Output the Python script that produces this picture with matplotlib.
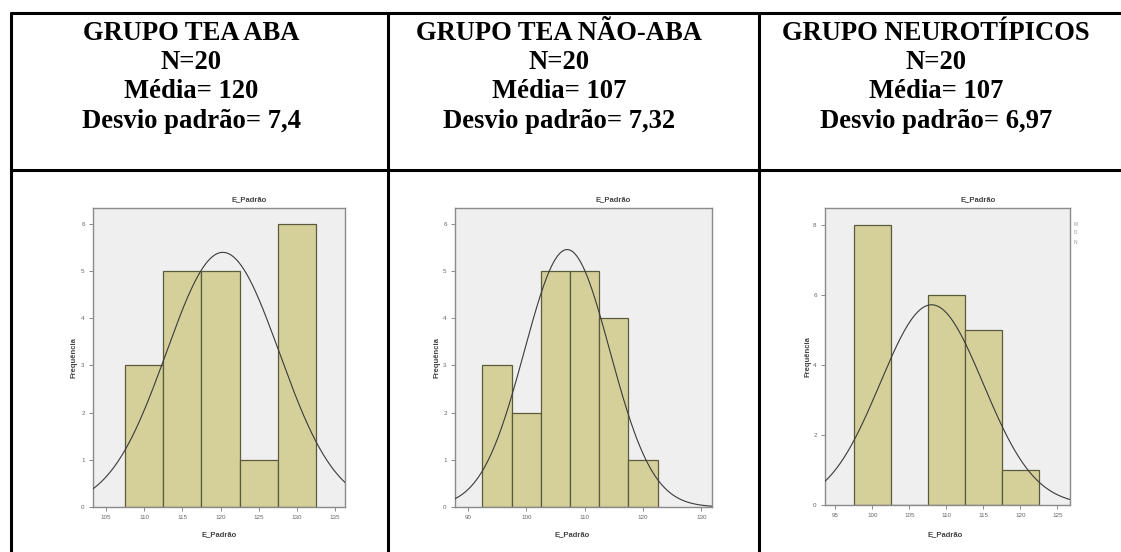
import numpy as np
import matplotlib
matplotlib.use("Agg")
import matplotlib.pyplot as plt
from matplotlib.lines import Line2D

# ---------------- data ----------------
groups = ["GRUPO TEA ABA", "GRUPO TEA NÃO-ABA", "GRUPO NEUROTÍPICOS"]
n_labels = ["N=20", "N=20", "N=20"]
mean_labels = ["Média= 120", "Média= 107", "Média= 107"]
sd_labels = ["Desvio padrão= 7,4", "Desvio padrão= 7,32", "Desvio padrão= 6,97"]

# histogram bins (left edges) and counts
bins_aba = [107.5, 112.5, 117.5, 122.5, 127.5]
counts_aba = [3, 5, 5, 1, 6]
bins_nao = [92.5, 97.5, 102.5, 107.5, 112.5, 117.5]
counts_nao = [3, 2, 5, 5, 4, 1]
bins_neu = [97.5, 102.5, 107.5, 112.5, 117.5]
counts_neu = [8, 0, 6, 5, 1]
bin_width = 5

# normal curve parameters (fitted curve drawn by SPSS)
n_total = [20, 20, 20]
curve_mean = [120.3, 107.0, 108.0]
curve_sd = [7.4, 7.32, 6.97]

xticks_aba = [105, 110, 115, 120, 125, 130, 135]
xticks_nao = [90, 100, 110, 120, 130]
xticks_neu = [95, 100, 105, 110, 115, 120, 125]
yticks_aba = [0, 1, 2, 3, 4, 5, 6]
yticks_nao = [0, 1, 2, 3, 4, 5, 6]
yticks_neu = [0, 2, 4, 6, 8]

# cut-off legend initials at the right edge of the third SPSS chart
legend_initials = ["M", "D", "N"]

# ---------------- figure ----------------
W, H = 1121, 552
fig = plt.figure(figsize=(W / 100, H / 100), dpi=100)
fig.patch.set_facecolor("white")


def fx(x):
    return x / W


def fy(y):
    return 1 - y / H


# table lines
lw_tab = 2.2
for (x0, y0, x1, y1) in [(9.5, 12.5, W, 12.5), (9.5, 170, W, 170),
                         (10.7, 11.5, 10.7, H), (387.5, 11.5, 387.5, H),
                         (759.3, 11.5, 759.3, H)]:
    fig.add_artist(Line2D([fx(x0), fx(x1)], [fy(y0), fy(y1)],
                          color="black", lw=lw_tab, solid_capstyle="butt"))

# header text
col_centers = [191, 559, 936]
baselines = [40, 69.3, 98.3, 127.7]
serif = ["Liberation Serif", "DejaVu Serif"]
for i in range(3):
    lines = [groups[i], n_labels[i], mean_labels[i], sd_labels[i]]
    for ln, b in zip(lines, baselines):
        fig.text(fx(col_centers[i]), fy(b), ln, ha="center", va="baseline",
                 fontsize=19.2, fontweight="bold", family=serif, color="black")

# histograms
panels = [
    dict(box=(93, 208, 345, 507), xlim=(103.3, 136.3), ylim=(0, 6.33),
         bins=bins_aba, counts=counts_aba, xt=xticks_aba, yt=yticks_aba,
         title_x=249, xlabel_x=219, ylabel_x=74),
    dict(box=(455, 208, 712, 507), xlim=(87.8, 131.8), ylim=(0, 6.33),
         bins=bins_nao, counts=counts_nao, xt=xticks_nao, yt=yticks_nao,
         title_x=613, xlabel_x=572, ylabel_x=437),
    dict(box=(825, 208, 1070, 505), xlim=(93.6, 126.7), ylim=(0, 8.49),
         bins=bins_neu, counts=counts_neu, xt=xticks_neu, yt=yticks_neu,
         title_x=978, xlabel_x=945, ylabel_x=808),
]

sans = ["Liberation Sans", "DejaVu Sans"]
bar_face = "#d5d09a"
bar_edge = "#5c5a3c"
frame_col = "#8a8a8a"

for k, p in enumerate(panels):
    l, t, r, b = p["box"]
    ax = fig.add_axes([fx(l), fy(b), fx(r) - fx(l), fy(t) - fy(b)])
    ax.set_facecolor("#efefef")
    ax.bar(p["bins"], p["counts"], width=bin_width, align="edge",
           color=bar_face, edgecolor=bar_edge, linewidth=0.9, zorder=2)
    xs = np.linspace(p["xlim"][0], p["xlim"][1], 400)
    m, s = curve_mean[k], curve_sd[k]
    ys = n_total[k] * bin_width * np.exp(-0.5 * ((xs - m) / s) ** 2) / (s * np.sqrt(2 * np.pi))
    ax.plot(xs, ys, color="#3a3a3a", lw=0.8, zorder=3)
    ax.set_xlim(*p["xlim"])
    ax.set_ylim(*p["ylim"])
    ax.set_xticks(p["xt"])
    ax.set_yticks(p["yt"])
    ax.tick_params(axis="both", direction="out", length=3, width=0.6,
                   colors="#777777", labelsize=4.5, pad=3,
                   labelcolor="#666666")
    for lab in ax.get_xticklabels() + ax.get_yticklabels():
        lab.set_family(sans)
    for sp in ax.spines.values():
        sp.set_color(frame_col)
        sp.set_linewidth(1.0)
    fig.text(fx(p["title_x"]), fy(200), "E_Padrão", ha="center", va="center",
             fontsize=5.5, fontweight="bold", family=sans, color="#444444")
    fig.text(fx(p["xlabel_x"]), fy(535), "E_Padrão", ha="center", va="center",
             fontsize=5.5, fontweight="bold", family=sans, color="#444444")
    fig.text(fx(p["ylabel_x"]), fy((t + b) / 2), "Frequência", ha="center",
             va="center", rotation=90, fontsize=5.5, fontweight="bold",
             family=sans, color="#444444")

for yy, txt in zip([225, 233, 242], legend_initials):
    fig.text(fx(1074), fy(yy), txt, fontsize=3.5, color="#999999",
             family=sans, va="center", ha="left")

fig.savefig("out.png", dpi=100, facecolor="white")
